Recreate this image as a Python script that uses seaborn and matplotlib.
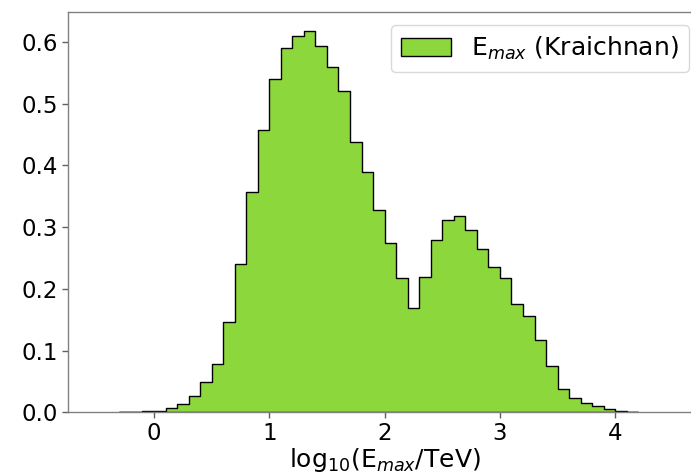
import numpy as np
import pandas as pd
import matplotlib
matplotlib.use("Agg")
import matplotlib.pyplot as plt
import seaborn as sns

# Histogram of log10(Emax / TeV), bins of width 0.1 from -0.3 to 4.2
bin_edges = [round(-0.3 + 0.1 * i, 2) for i in range(46)]
bin_heights = [
    0.0005, 0.0008, 0.0015,                   # -0.3 .. 0.0
    0.0026, 0.0065, 0.0135, 0.0270, 0.0486,   # 0.0 .. 0.5
    0.0780, 0.1460, 0.2400, 0.3570, 0.4580,   # 0.5 .. 1.0
    0.5400, 0.5900, 0.6100, 0.6175, 0.5930,   # 1.0 .. 1.5
    0.5590, 0.5210, 0.4376, 0.3890, 0.3280,   # 1.5 .. 2.0
    0.2740, 0.2180, 0.1686, 0.2198, 0.2790,   # 2.0 .. 2.5
    0.3117, 0.3180, 0.2955, 0.2647, 0.2355,   # 2.5 .. 3.0
    0.2180, 0.1750, 0.1566, 0.1167, 0.0755,   # 3.0 .. 3.5
    0.0378, 0.0237, 0.0146, 0.0107, 0.0053,   # 3.5 .. 4.0
    0.0020, 0.0010,                           # 4.0 .. 4.2
]
series_label = r"E$_{max}$ (Kraichnan)"
x_label = r"log$_{10}$(E$_{max}$/TeV)"
y_ticks = [0.0, 0.1, 0.2, 0.3, 0.4, 0.5, 0.6]
x_ticks = [0, 1, 2, 3, 4]

edges = np.array(bin_edges)
centers = (edges[:-1] + edges[1:]) / 2
df = pd.DataFrame({"logE": centers, "density": bin_heights})

sns.set_style("white")
plt.rcParams["font.family"] = ["DejaVu Sans"]
plt.rcParams["text.color"] = "black"
plt.rcParams["axes.labelcolor"] = "black"
plt.rcParams["xtick.color"] = "black"
plt.rcParams["ytick.color"] = "black"

fig = plt.figure(figsize=(6.91, 4.75), dpi=100)
ax = fig.add_axes([67.5 / 691, 1 - 412.3 / 475, (701.7 - 67.5) / 691, 400 / 475])

sns.histplot(
    data=df, x="logE", weights="density", bins=bin_edges,
    element="step", fill=True, stat="count",
    color="#8cd83c", alpha=1.0, edgecolor="black", linewidth=1.0,
    label=series_label, ax=ax,
)

ax.set_xlim(-0.75, 4.75)
ax.set_ylim(0, 0.648)
ax.set_xticks(x_ticks)
ax.set_yticks(y_ticks)
ax.set_yticklabels([f"{v:.1f}" for v in y_ticks])
ax.set_xlabel(x_label, fontsize=18, labelpad=1)
ax.set_ylabel("")

for s in ax.spines.values():
    s.set_color("#808080")
    s.set_linewidth(1.0)
ax.tick_params(axis="both", which="major", labelsize=16.5, direction="out",
               length=4, width=1, color="#606060", labelcolor="black",
               left=True, bottom=True, pad=3)

ax.legend(loc="upper right", fontsize=18, frameon=True, framealpha=0.8,
          edgecolor="#d0d0d0", fancybox=True, handlelength=2.0,
          borderaxespad=0.5)

fig.savefig("out.png", dpi=100)
